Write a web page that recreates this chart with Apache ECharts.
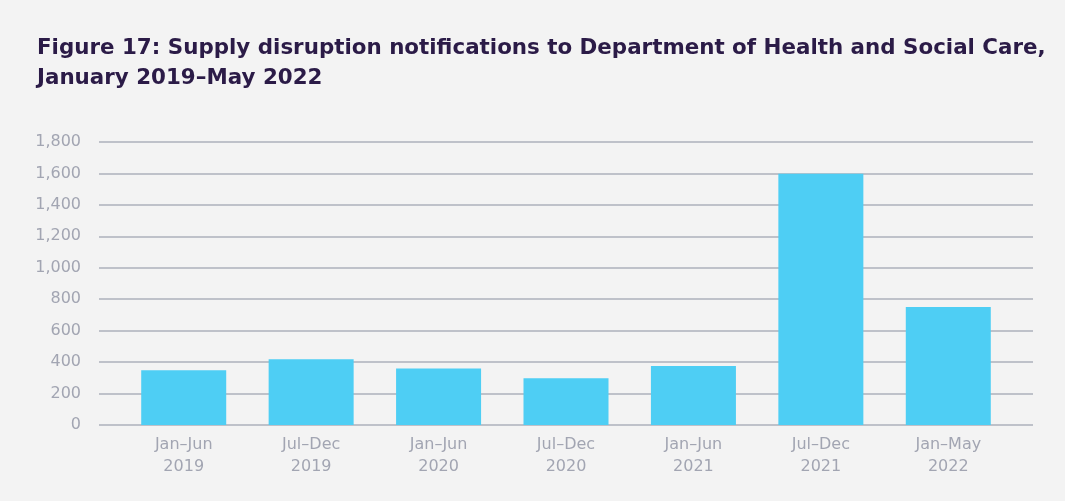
<!DOCTYPE html>
<html>
<head>
<meta charset="utf-8">
<title>Supply disruption notifications</title>
<script src="https://cdn.jsdelivr.net/npm/echarts@6/dist/echarts.min.js"></script>
<style>
  html, body { margin: 0; padding: 0; background: #f3f3f3; }
  #main { width: 1065px; height: 501px; }
</style>
</head>
<body>
<div id="main"></div>
<script>
// half-year periods
var categories = ['Jan–Jun\n2019', 'Jul–Dec\n2019', 'Jan–Jun\n2020', 'Jul–Dec\n2020',
                  'Jan–Jun\n2021', 'Jul–Dec\n2021', 'Jan–May\n2022'];
// notifications per period
var notifications = [348, 418, 360, 297, 375, 1598, 750];
var yTicks = [0, 200, 400, 600, 800, 1000, 1200, 1400, 1600, 1800];

var labelColor = '#a2a5b2';
var gridColor = '#adb0bb';
var font = '"DejaVu Sans", sans-serif';

var chart = echarts.init(document.getElementById('main'));

var option = {
  backgroundColor: '#f3f3f3',
  animation: false,
  title: {
    text: 'Figure 17: Supply disruption notifications to Department of Health and Social Care,\nJanuary 2019–May 2022',
    left: 37,
    top: 33,
    padding: 0,
    textStyle: {
      fontFamily: font,
      fontWeight: 'bold',
      fontSize: 21.4,
      lineHeight: 30,
      color: '#2b1b47'
    }
  },
  // grid 0 carries the gridlines and y labels, grid 1 carries the bars
  grid: [
    { left: 99, right: 32, top: 142, bottom: 76 },
    { left: 120, right: 53, top: 142, bottom: 76 }
  ],
  xAxis: [
    { gridIndex: 0, type: 'category', data: [''], show: false },
    {
      gridIndex: 1,
      type: 'category',
      data: categories,
      axisLine: { show: false },
      axisTick: { show: false },
      axisLabel: {
        color: labelColor,
        fontFamily: font,
        fontSize: 16,
        lineHeight: 22,
        margin: 9
      }
    }
  ],
  yAxis: [
    {
      gridIndex: 0,
      type: 'value',
      min: 0,
      max: 1800,
      interval: 200,
      axisLine: { show: false },
      axisTick: { show: false },
      splitLine: { lineStyle: { color: gridColor, width: 1.5 } },
      axisLabel: {
        color: labelColor,
        fontFamily: font,
        fontSize: 16,
        margin: 18,
        formatter: function (v) {
          return yTicks.indexOf(v) >= 0 ? v.toLocaleString('en-US') : '';
        }
      }
    },
    {
      gridIndex: 1,
      type: 'value',
      min: 0,
      max: 1800,
      interval: 200,
      show: false
    }
  ],
  series: [{
    name: 'Notifications',
    type: 'bar',
    xAxisIndex: 1,
    yAxisIndex: 1,
    data: notifications,
    barWidth: 85,
    itemStyle: { color: '#4ecef4' }
  }]
};

chart.setOption(option);
</script>
</body>
</html>
